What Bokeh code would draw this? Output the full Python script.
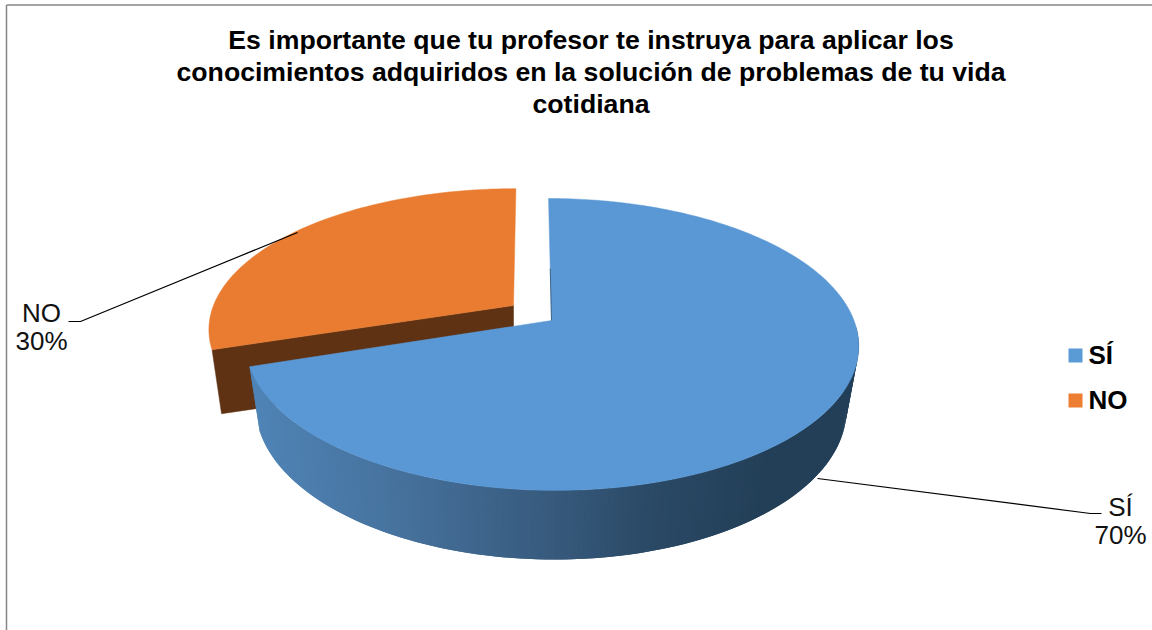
import numpy as np
from bokeh.plotting import figure
from bokeh.models import Range1d
from bokeh.core.properties import value
from bokeh.embed import file_html
from bokeh.resources import INLINE

categories = ["SÍ", "NO"]
values = [70, 30]
colors = ["#5B9BD5", "#ED7D31"]
top_colors = ["#5A98D5", "#E97C30"]
title_lines = ["Es importante que tu profesor te instruya para aplicar los",
               "conocimientos adquiridos en la solución de problemas de tu vida",
               "cotidiana"]
FONT = "Liberation Sans"

W, H = 1152, 630
p = figure(width=W, height=H, x_range=Range1d(0, W), y_range=Range1d(H, 0),
           output_backend="svg", toolbar_location=None, min_border=0,
           x_axis_location=None, y_axis_location=None, outline_line_color=None)
p.grid.visible = False
p.styles = {"position": "absolute", "left": "0px", "top": "0px"}

K = 0.164
XV = 530.0

def proj(t_deg, x0, y0, r, h):
    t = np.radians(t_deg)
    a, b = np.sin(t), -np.cos(t)
    s = 1 / (1 - K * b)
    return XV + (x0 - XV + r * a) * s, y0 + h * b * s

total = sum(values)
sweep = [v / total * 360 for v in values]
end_si = sweep[0]

# frame
p.line([6, 1152], [4.5, 4.5], line_color="#868686", line_width=1.5)
p.line([6, 6], [4.5, 630], line_color="#868686", line_width=1.5)

# ---- NO slice (exploded, behind)
NO = dict(x0=513, y0=305, r=300, h=136)
ang = np.linspace(end_si, 360, 80)
ox, oy = proj(ang, **NO)
lx, ly = proj(end_si, **NO)
p.patch([513, lx, lx + 9.5, 513], [305, ly, ly + 64, 370], fill_color="#5F3214", line_color="#5F3214", line_width=0.5)
p.patch(list(ox) + [513], list(oy) + [305], fill_color=top_colors[1], line_color=top_colors[1], line_width=0.5)

# ---- SÍ slice wall, with horizontal shading built from overlapping strips
SI_TOP = dict(x0=551, y0=320, r=302.5, h=142)
SI_BOT = dict(x0=550, y0=382, r=291.5, h=148)
stops_x = [250, 400, 550, 650, 760, 860]
stops_c = np.array([[0x50, 0x85, 0xB8], [0x46, 0x72, 0x9D], [0x37, 0x5A, 0x7D],
                    [0x2A, 0x49, 0x65], [0x23, 0x3F, 0x58], [0x23, 0x3F, 0x58]], float)
ts = np.linspace(92, end_si, 170)
tx, ty = proj(ts, **SI_TOP)
bx, by = proj(ts, **SI_BOT)
xs, ys, cs = [], [], []
for i in range(len(ts) - 1):
    j = min(i + 2, len(ts) - 1)
    xs.append([tx[i], tx[j], bx[j], bx[i]])
    ys.append([ty[i], ty[j], by[j], by[i]])
    mx = (bx[i] + bx[i + 1]) / 2
    c = [int(round(np.interp(mx, stops_x, stops_c[:, k]))) for k in range(3)]
    cs.append("#%02X%02X%02X" % tuple(c))
p.patches(xs, ys, fill_color=cs, line_color=None)

# top face
ax_ = np.linspace(0, end_si, 240)
fx, fy = proj(ax_, **SI_TOP)
p.patch(list(fx) + [551], list(fy) + [320], fill_color=top_colors[0], line_color=top_colors[0], line_width=0.5)
p.line([fx[0] + 1.7, 551], [fy[0] + 70, 320], line_color="#2F5472", line_width=0.8)

# leader lines
p.line([297, 80, 68], [232, 321, 321], line_color="#000000", line_width=1.2)
p.line([817, 1090, 1101], [478, 513, 513], line_color="#000000", line_width=1.2)

# labels
tk = dict(text_font=value(FONT), text_align="center", text_baseline="alphabetic")
p.text([41], [312], text=[categories[1]], text_font_size="26px", text_color="#111111", **tk)
p.text([41], [340], text=["%d%%" % values[1]], text_font_size="26px", text_color="#111111", **tk)
p.text([1120], [506], text=[categories[0]], text_font_size="26px", text_color="#111111", **tk)
p.text([1120], [534], text=["%d%%" % values[0]], text_font_size="26px", text_color="#111111", **tk)

# title
for t, y in zip(title_lines, [39.5, 71.5, 103.5]):
    p.text([590.5], [y], text=[t], text_font_size="26.65px", text_font_style="bold",
           text_color="#000000", **tk)

# legend
for i, (c, y) in enumerate(zip(colors, [355, 400])):
    p.rect([1075], [y], width=14, height=14, fill_color=c, line_color=None)
    p.text([1088], [y - 1], text=[categories[i]], text_font_size="26px", text_font_style="bold",
           text_color="#000000", text_font=value(FONT), text_align="left", text_baseline="alphabetic")

open("out.html", "w").write(file_html(p, INLINE))
